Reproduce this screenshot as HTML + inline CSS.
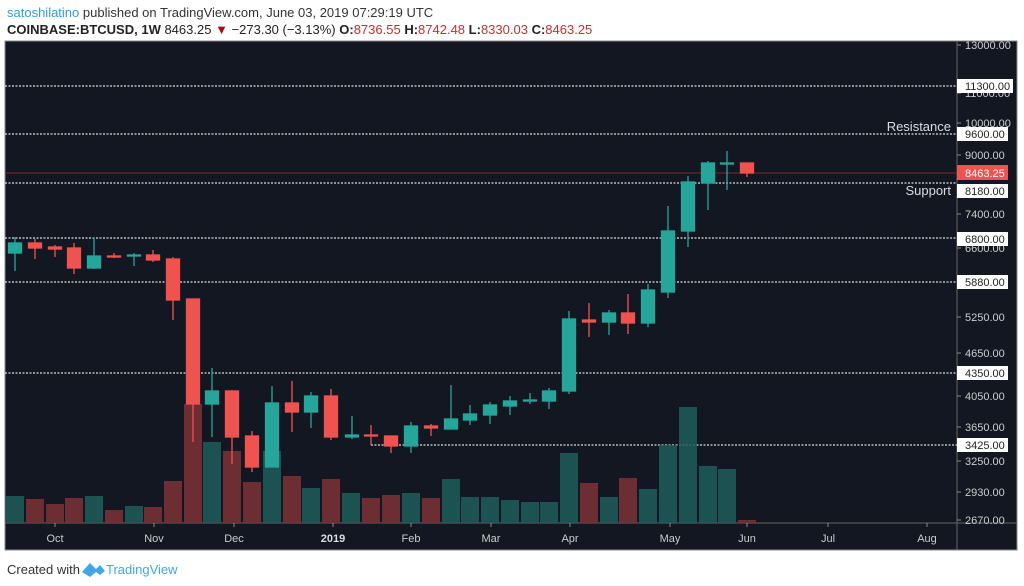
<!DOCTYPE html>
<html><head><meta charset="utf-8"><style>
body{margin:0;background:#fff;width:1024px;height:586px;overflow:hidden;font-family:"Liberation Sans",sans-serif}
svg{position:absolute;left:0;top:0}
</style></head><body>
<svg width="1024" height="586" viewBox="0 0 1024 586" font-family="Liberation Sans, sans-serif">
<text x="7" y="17" font-size="13" fill="#333"><tspan fill="#2e9ce6">satoshilatino</tspan> published on TradingView.com, June 03, 2019 07:29:19 UTC</text>
<text x="7" y="34" font-size="13" fill="#222"><tspan font-weight="bold">COINBASE:BTCUSD, 1W</tspan> 8463.25 <tspan fill="#a01010">▼</tspan> −273.30 (−3.13%) <tspan font-weight="bold">O:</tspan><tspan fill="#c23030">8736.55</tspan> <tspan font-weight="bold">H:</tspan><tspan fill="#c23030">8742.48</tspan> <tspan font-weight="bold">L:</tspan><tspan fill="#c23030">8330.03</tspan> <tspan font-weight="bold">C:</tspan><tspan fill="#c23030">8463.25</tspan></text>
<rect x="5" y="41" width="1012" height="509" fill="#131722" stroke="#888" stroke-width="1"/>
<line x1="957" y1="41" x2="957" y2="550" stroke="#666"/>
<line x1="5" y1="523" x2="1017" y2="523" stroke="#666"/>
<g stroke="#ddd" stroke-width="1.2" stroke-dasharray="2,1.5">
<line x1="5" y1="86" x2="957" y2="86"/>
<line x1="5" y1="134" x2="957" y2="134"/>
<line x1="5" y1="183" x2="957" y2="183"/>
<line x1="5" y1="238" x2="957" y2="238"/>
<line x1="5" y1="282" x2="957" y2="282"/>
<line x1="5" y1="373" x2="957" y2="373"/>
<line x1="371" y1="445" x2="957" y2="445"/>
</g>
<line x1="5" y1="173" x2="957" y2="173" stroke="#7a2a30" stroke-width="1"/>
<g opacity="0.85">
<g fill="#1e5d5b">
<rect x="6" y="496" width="18" height="27"/><rect x="85" y="496" width="18" height="27"/><rect x="125" y="506" width="18" height="17"/><rect x="203" y="442" width="18" height="81"/><rect x="263" y="451" width="18" height="72"/><rect x="302" y="488" width="18" height="35"/><rect x="342" y="493" width="18" height="30"/><rect x="402" y="493" width="18" height="30"/><rect x="442" y="479" width="18" height="44"/><rect x="461" y="497" width="18" height="26"/><rect x="481" y="497" width="18" height="26"/><rect x="501" y="500" width="18" height="23"/><rect x="521" y="502" width="18" height="21"/><rect x="540" y="502" width="18" height="21"/><rect x="560" y="453" width="18" height="70"/><rect x="600" y="497" width="18" height="26"/><rect x="639" y="489" width="18" height="34"/><rect x="659" y="445" width="18" height="78"/><rect x="679" y="407" width="18" height="116"/><rect x="699" y="466" width="18" height="57"/><rect x="718" y="469" width="18" height="54"/>
</g>
<g fill="#7c3236">
<rect x="26" y="499" width="18" height="24"/><rect x="46" y="504" width="18" height="19"/><rect x="65" y="498" width="18" height="25"/><rect x="105" y="510" width="18" height="13"/><rect x="144" y="507" width="18" height="16"/><rect x="164" y="481" width="18" height="42"/><rect x="184" y="404" width="18" height="119"/><rect x="223" y="451" width="18" height="72"/><rect x="243" y="482" width="18" height="41"/><rect x="283" y="476" width="18" height="47"/><rect x="322" y="479" width="18" height="44"/><rect x="362" y="498" width="18" height="25"/><rect x="382" y="495" width="18" height="28"/><rect x="422" y="498" width="18" height="25"/><rect x="580" y="483" width="18" height="40"/><rect x="619" y="478" width="18" height="45"/><rect x="738" y="520" width="18" height="3"/>
</g></g>
<g stroke="#26a69a" fill="#26a69a" stroke-width="1.3">
<line x1="15" y1="237" x2="15" y2="271"/><rect x="8.5" y="243" width="13" height="10"/>
<line x1="94" y1="237" x2="94" y2="269"/><rect x="87.5" y="256" width="13" height="12"/>
<line x1="134" y1="253" x2="134" y2="266"/><rect x="127.5" y="255" width="13" height="1"/>
<line x1="212" y1="368" x2="212" y2="437"/><rect x="205.5" y="391" width="13" height="13"/>
<line x1="272" y1="386" x2="272" y2="467"/><rect x="265.5" y="403" width="13" height="64"/>
<line x1="311" y1="392" x2="311" y2="428"/><rect x="304.5" y="396" width="13" height="16"/>
<line x1="352" y1="416" x2="352" y2="439"/><rect x="345.5" y="435" width="13" height="2"/>
<line x1="411" y1="422" x2="411" y2="453"/><rect x="404.5" y="426" width="13" height="20"/>
<line x1="451" y1="385" x2="451" y2="429"/><rect x="444.5" y="419" width="13" height="10"/>
<line x1="470" y1="405" x2="470" y2="425"/><rect x="463.5" y="414" width="13" height="6"/>
<line x1="490" y1="402" x2="490" y2="424"/><rect x="483.5" y="405" width="13" height="10"/>
<line x1="510" y1="396" x2="510" y2="415"/><rect x="503.5" y="401" width="13" height="5"/>
<line x1="530" y1="393" x2="530" y2="404"/><rect x="523.5" y="400" width="13" height="1"/>
<line x1="549" y1="388" x2="549" y2="409"/><rect x="542.5" y="391" width="13" height="10"/>
<line x1="569" y1="311" x2="569" y2="394"/><rect x="562.5" y="319" width="13" height="72"/>
<line x1="609" y1="310" x2="609" y2="335"/><rect x="602.5" y="313" width="13" height="9"/>
<line x1="648" y1="284" x2="648" y2="327"/><rect x="641.5" y="290" width="13" height="33"/>
<line x1="668" y1="206" x2="668" y2="298"/><rect x="661.5" y="231" width="13" height="61"/>
<line x1="688" y1="176" x2="688" y2="247"/><rect x="681.5" y="182" width="13" height="49"/>
<line x1="708" y1="161" x2="708" y2="210"/><rect x="701.5" y="163" width="13" height="20"/>
<line x1="727" y1="151" x2="727" y2="190"/><rect x="720.5" y="163" width="13" height="1"/>
</g>
<g stroke="#ef5350" fill="#ef5350" stroke-width="1.3">
<line x1="35" y1="239" x2="35" y2="259"/><rect x="28.5" y="243" width="13" height="5"/>
<line x1="55" y1="245" x2="55" y2="257"/><rect x="48.5" y="247" width="13" height="2"/>
<line x1="74" y1="243" x2="74" y2="274"/><rect x="67.5" y="248" width="13" height="20"/>
<line x1="114" y1="253" x2="114" y2="258"/><rect x="107.5" y="256" width="13" height="1"/>
<line x1="153" y1="250" x2="153" y2="262"/><rect x="146.5" y="255" width="13" height="5"/>
<line x1="173" y1="257" x2="173" y2="320"/><rect x="166.5" y="259" width="13" height="41"/>
<line x1="193" y1="299" x2="193" y2="442"/><rect x="186.5" y="299" width="13" height="105"/>
<line x1="232" y1="390" x2="232" y2="464"/><rect x="225.5" y="391" width="13" height="46"/>
<line x1="252" y1="431" x2="252" y2="472"/><rect x="245.5" y="436" width="13" height="31"/>
<line x1="292" y1="381" x2="292" y2="432"/><rect x="285.5" y="403" width="13" height="9"/>
<line x1="331" y1="389" x2="331" y2="440"/><rect x="324.5" y="396" width="13" height="41"/>
<line x1="371" y1="425" x2="371" y2="445"/><rect x="364.5" y="435" width="13" height="1"/>
<line x1="391" y1="436" x2="391" y2="453"/><rect x="384.5" y="436" width="13" height="10"/>
<line x1="431" y1="424" x2="431" y2="436"/><rect x="424.5" y="426" width="13" height="2"/>
<line x1="589" y1="303" x2="589" y2="337"/><rect x="582.5" y="320" width="13" height="2"/>
<line x1="628" y1="294" x2="628" y2="334"/><rect x="621.5" y="313" width="13" height="10"/>
<line x1="747" y1="163" x2="747" y2="177"/><rect x="740.5" y="163" width="13" height="10"/>
</g>
<text x="951" y="131" font-size="13" fill="#ddd" text-anchor="end">Resistance</text>
<text x="951" y="195" font-size="13" fill="#ddd" text-anchor="end">Support</text>
<g font-size="11" fill="#ccc">
<g stroke="#888"><line x1="957" y1="45" x2="961" y2="45"/><line x1="957" y1="93" x2="961" y2="93"/><line x1="957" y1="123" x2="961" y2="123"/><line x1="957" y1="155" x2="961" y2="155"/><line x1="957" y1="214" x2="961" y2="214"/><line x1="957" y1="248" x2="961" y2="248"/><line x1="957" y1="317" x2="961" y2="317"/><line x1="957" y1="353" x2="961" y2="353"/><line x1="957" y1="396" x2="961" y2="396"/><line x1="957" y1="427" x2="961" y2="427"/><line x1="957" y1="461" x2="961" y2="461"/><line x1="957" y1="492" x2="961" y2="492"/><line x1="957" y1="520" x2="961" y2="520"/></g>
<text x="965" y="49">13000.00</text><text x="965" y="97">11000.00</text><text x="965" y="127">10000.00</text><text x="965" y="159">9000.00</text><text x="965" y="218">7400.00</text><text x="965" y="252">6600.00</text><text x="965" y="321">5250.00</text><text x="965" y="357">4650.00</text><text x="965" y="400">4050.00</text><text x="965" y="431">3650.00</text><text x="965" y="465">3250.00</text><text x="965" y="496">2930.00</text><text x="965" y="524">2670.00</text>
</g>
<g font-size="11" fill="#222">
<rect x="957" y="79" width="56" height="14" fill="#fff"/><text x="965" y="90">11300.00</text>
<rect x="957" y="127" width="51" height="14" fill="#fff"/><text x="965" y="138">9600.00</text>
<rect x="957" y="184" width="51" height="14" fill="#fff"/><text x="965" y="195">8180.00</text>
<rect x="957" y="232" width="51" height="14" fill="#fff"/><text x="965" y="243">6800.00</text>
<rect x="957" y="275" width="51" height="14" fill="#fff"/><text x="965" y="286">5880.00</text>
<rect x="957" y="366" width="51" height="14" fill="#fff"/><text x="965" y="377">4350.00</text>
<rect x="957" y="438" width="51" height="14" fill="#fff"/><text x="965" y="449">3425.00</text>
<rect x="957" y="165" width="51" height="15" fill="#ef5350"/><text x="965" y="177" fill="#fff">8463.25</text>
</g>
<g font-size="11" fill="#ccc" text-anchor="middle">
<g stroke="#888"><line x1="55" y1="523" x2="55" y2="527"/><line x1="154" y1="523" x2="154" y2="527"/><line x1="234" y1="523" x2="234" y2="527"/><line x1="333" y1="523" x2="333" y2="527"/><line x1="411" y1="523" x2="411" y2="527"/><line x1="491" y1="523" x2="491" y2="527"/><line x1="570" y1="523" x2="570" y2="527"/><line x1="670" y1="523" x2="670" y2="527"/><line x1="747" y1="523" x2="747" y2="527"/><line x1="828" y1="523" x2="828" y2="527"/><line x1="927" y1="523" x2="927" y2="527"/></g>
<text x="55" y="542">Oct</text><text x="154" y="542">Nov</text><text x="234" y="542">Dec</text><text x="333" y="542" font-weight="bold" fill="#ddd">2019</text><text x="411" y="542">Feb</text><text x="491" y="542">Mar</text><text x="570" y="542">Apr</text><text x="670" y="542">May</text><text x="747" y="542">Jun</text><text x="828" y="542">Jul</text><text x="927" y="542">Aug</text>
</g>
<text x="7" y="574" font-size="13" fill="#333">Created with</text>
<path d="M82 572 L90 563 L96 569 L100 565 L105 571 L100 575 L96 572 L90 577 Z" fill="#40a6e6"/>
<text x="106" y="574" font-size="13" fill="#40a6e6">TradingView</text>
</svg>
</body></html>
